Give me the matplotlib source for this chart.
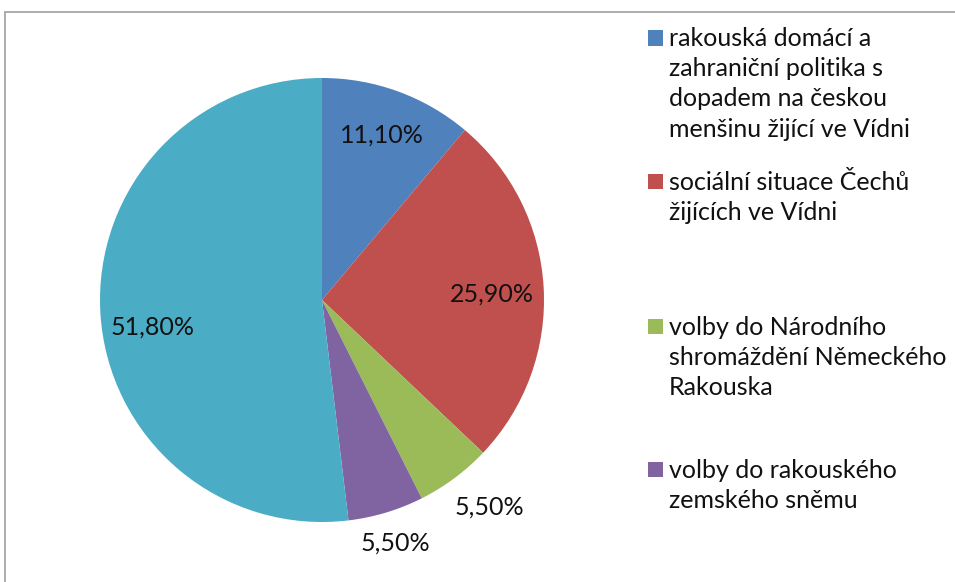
import matplotlib
matplotlib.use('Agg')
import matplotlib.pyplot as plt
from matplotlib.patches import Rectangle
from matplotlib.transforms import ScaledTranslation

plt.rcParams['font.family'] = ['Lato', 'DejaVu Sans']

# data
hodnoty = [11.1, 25.9, 5.5, 5.5, 51.8]
popisky = ['11,10%', '25,90%', '5,50%', '5,50%', '51,80%']
barvy = ['#4F81BD', '#C0504D', '#9BBB59', '#8064A2', '#4BACC6']
legenda = ['rakouská domácí a\nzahraniční politika s\ndopadem na českou\nmenšinu žijící ve Vídni',
           'sociální situace Čechů\nžijících ve Vídni',
           'volby do Národního\nshromáždění Německého\nRakouska',
           'volby do rakouského\nzemského sněmu']

# layout tweaks
legenda_y = [46.5, 190, 335, 478]       # pixel baseline of first line of each entry
radek = 30                              # line pitch in px
posun = [(3, -8), (4, 4), (15, 2), (0, -1), (-3, 17)]   # Excel-like label nudges (px)

W, H = 955, 582
fig = plt.figure(figsize=(W / 100, H / 100), dpi=100)

# chart border (only left and top are visible in the crop)
fig.patches.append(Rectangle((5 / W, -0.5), 2, 0.5 + (H - 12) / H, transform=fig.transFigure,
                             fill=False, edgecolor='#A6A6A6', linewidth=1.3))

ax = fig.add_axes([100 / W, 60 / H, 444 / W, 444 / H])
wedges, texts, auto = ax.pie(hodnoty, colors=barvy, startangle=90, counterclock=False,
                             autopct='%1.1f', pctdistance=0.75, radius=1,
                             wedgeprops=dict(linewidth=0),
                             textprops=dict(fontsize=18, color='#111111'))
for t, lab, v, (dx, dy) in zip(auto, popisky, hodnoty, posun):
    t.set_text(lab)
    if v < 10:
        x, y = t.get_position()
        t.set_position((x * 1.15 / 0.75, y * 1.15 / 0.75))
    t.set_transform(ax.transData + ScaledTranslation(dx / 100, -dy / 100, fig.dpi_scale_trans))
ax.set_xlim(-1, 1)
ax.set_ylim(-1, 1)
ax.set_aspect('equal')
ax.axis('off')

# legend drawn by hand (Excel spreads the entries unevenly)
for lab, c, yp in zip(legenda, barvy, legenda_y):
    fig.patches.append(Rectangle((648 / W, 1 - (yp - 1) / H), 15 / W, 15 / H,
                                 transform=fig.transFigure, facecolor=c, edgecolor='none'))
    for i, line in enumerate(lab.split('\n')):
        fig.text(669 / W, 1 - (yp + i * radek) / H, line, fontsize=18, va='baseline',
                 ha='left', color='#111111')

fig.savefig('out.png', dpi=100)
